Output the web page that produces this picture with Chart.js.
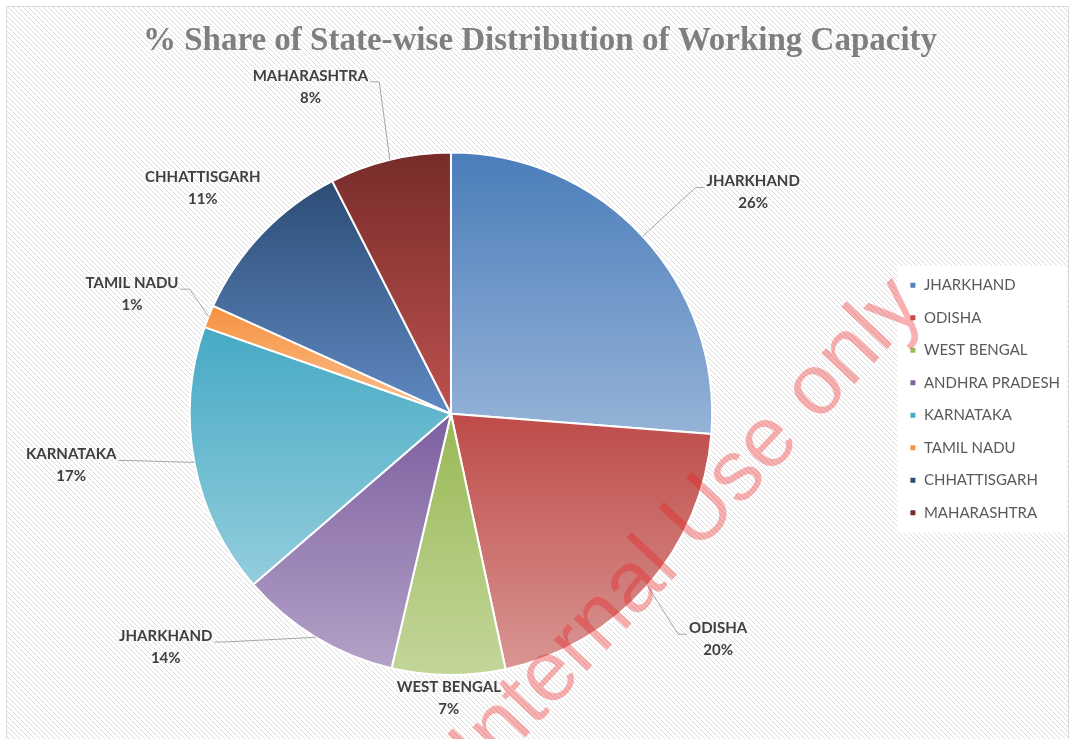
<!DOCTYPE html>
<html>
<head>
<meta charset="utf-8">
<title>% Share of State-wise Distribution of Working Capacity</title>
<script src="https://cdn.jsdelivr.net/npm/chart.js@4.4.1/dist/chart.umd.min.js"></script>
<style>
  body { margin: 0; background: #fff; }
  #myChart { display: block; }
</style>
</head>
<body>
<canvas id="myChart" width="1073" height="739"></canvas>
<script>
// data
const states = ['JHARKHAND', 'ODISHA', 'WEST BENGAL', 'ANDHRA PRADESH', 'KARNATAKA', 'TAMIL NADU', 'CHHATTISGARH', 'MAHARASHTRA'];
const shares = [26.2, 20.4, 7.0, 10.0, 16.7, 1.4, 10.7, 7.5];
const labelNames = ['JHARKHAND', 'ODISHA', 'WEST BENGAL', 'JHARKHAND', 'KARNATAKA', 'TAMIL NADU', 'CHHATTISGARH', 'MAHARASHTRA'];
const labelPercents = ['26%', '20%', '7%', '14%', '17%', '1%', '11%', '8%'];

// styles
const baseColors = ['#4F81BD', '#C0504D', '#9BBB59', '#8064A2', '#4BACC6', '#F79646', '#2C4D75', '#772C2A'];
const topColors = ['#4A7DBA', '#BE4B48', '#98B954', '#7D5FA0', '#46AAC4', '#F69240', '#2C4D75', '#772C2A'];
const bottomColors = ['#95B3D7', '#D99694', '#C3D69B', '#B3A2C7', '#93CDDD', '#FAC090', '#5F89C2', '#BD514E'];
// label placement, in units of the pie radius from its centre
const labelDx = [1.157, 1.023, -0.008, -1.092, -1.454, -1.221, -0.950, -0.538];
const labelDy = [-0.847, 0.863, 1.088, 0.893, 0.198, -0.458, -0.863, -1.252];
const hasLeader = [true, true, false, true, true, true, false, true];

const backdrop = {
    id: 'backdrop',
    beforeDraw(chart) {
        const c = chart.ctx;
        const W = chart.width, H = chart.height;
        c.save();
        c.fillStyle = '#fff';
        c.fillRect(0, 0, W, H);
        c.beginPath();
        c.rect(7, 7, W - 12, H);
        c.clip();
        c.strokeStyle = '#dcdcdc';
        c.lineWidth = 1;
        c.beginPath();
        for (let i = -H; i < W; i += 5) {
            c.moveTo(i, 0);
            c.lineTo(i + H, H);
        }
        c.stroke();
        c.restore();
        c.strokeStyle = '#d9d9d9';
        c.lineWidth = 1;
        c.strokeRect(6.5, 6.5, W - 11, H);

        // white box behind the legend
        const boxes = chart.legend && chart.legend.legendHitBoxes;
        if (boxes && boxes.length) {
            const left = Math.min(...boxes.map(b => b.left)) - 12;
            const top = Math.min(...boxes.map(b => b.top)) - 12;
            const bottom = Math.max(...boxes.map(b => b.top + b.height)) + 12;
            c.fillStyle = '#fff';
            c.fillRect(left, top, W - 6 - left, bottom - top);
        }
    },
    beforeDatasetsDraw(chart) {
        const c = chart.ctx;
        chart.getDatasetMeta(0).data.forEach((arc, i) => {
            const p = arc.getProps(['x', 'y', 'startAngle', 'endAngle', 'outerRadius'], true);
            const ys = [p.y, p.y + p.outerRadius * Math.sin(p.startAngle), p.y + p.outerRadius * Math.sin(p.endAngle)];
            [-Math.PI / 2, Math.PI / 2, 3 * Math.PI / 2].forEach(a => {
                if (a > p.startAngle && a < p.endAngle) ys.push(p.y + p.outerRadius * Math.sin(a));
            });
            const g = c.createLinearGradient(0, Math.min(...ys), 0, Math.max(...ys));
            g.addColorStop(0, topColors[i]);
            g.addColorStop(1, bottomColors[i]);
            arc.options.backgroundColor = g;
        });
    },
    afterDatasetsDraw(chart) {
        const c = chart.ctx;
        c.save();
        c.font = 'bold 15px Lato';
        c.fillStyle = '#404040';
        c.textAlign = 'center';
        c.textBaseline = 'middle';
        c.strokeStyle = '#a6a6a6';
        c.lineWidth = 1;
        chart.getDatasetMeta(0).data.forEach((arc, i) => {
            const p = arc.getProps(['x', 'y', 'startAngle', 'endAngle', 'outerRadius'], true);
            const r = p.outerRadius;
            const lx = p.x + labelDx[i] * r;
            const ly = p.y + labelDy[i] * r;
            c.fillText(labelNames[i], lx, ly - 11);
            c.fillText(labelPercents[i], lx, ly + 11);
            if (hasLeader[i]) {
                const w = c.measureText(labelNames[i]).width;
                const side = labelDx[i] > 0 ? -1 : 1;
                const sx = lx + side * (w / 2 + 2);
                const sy = ly - 11 + 6;
                const mid = (p.startAngle + p.endAngle) / 2;
                c.beginPath();
                c.moveTo(sx, sy);
                c.lineTo(sx + side * 9, sy);
                c.lineTo(p.x + r * Math.cos(mid), p.y + r * Math.sin(mid));
                c.stroke();
            }
        });
        c.restore();
    },
    afterDraw(chart) {
        const c = chart.ctx;
        c.save();
        c.translate(688, 528);
        c.rotate(-47 * Math.PI / 180);
        c.font = '86px "Liberation Sans"';
        c.fillStyle = 'rgba(235, 30, 30, 0.35)';
        c.textAlign = 'center';
        c.textBaseline = 'middle';
        c.fillText('Internal Use only', 0, 0);
        c.restore();
    }
};

new Chart(document.getElementById('myChart'), {
    type: 'pie',
    data: {
        labels: states,
        datasets: [{
            data: shares,
            backgroundColor: baseColors,
            borderColor: '#ffffff',
            borderWidth: 2
        }]
    },
    options: {
        responsive: false,
        animation: false,
        devicePixelRatio: 1,
        layout: {
            padding: { left: 10, right: 3, top: 0, bottom: 63 }
        },
        plugins: {
            title: {
                display: true,
                text: '% Share of State-wise Distribution of Working Capacity',
                color: '#7f7f7f',
                font: { family: 'Liberation Serif', size: 33, weight: 'bold' },
                padding: { top: 22, bottom: 90 }
            },
            legend: {
                position: 'right',
                title: {
                    display: true,
                    text: ' ',
                    font: { size: 10 },
                    padding: { top: 0, bottom: 110 }
                },
                labels: {
                    boxWidth: 7,
                    boxHeight: 7,
                    padding: 17.5,
                    color: '#595959',
                    font: { family: 'Lato', size: 15 }
                }
            },
            tooltip: { enabled: false }
        }
    },
    plugins: [backdrop]
});
</script>
</body>
</html>
